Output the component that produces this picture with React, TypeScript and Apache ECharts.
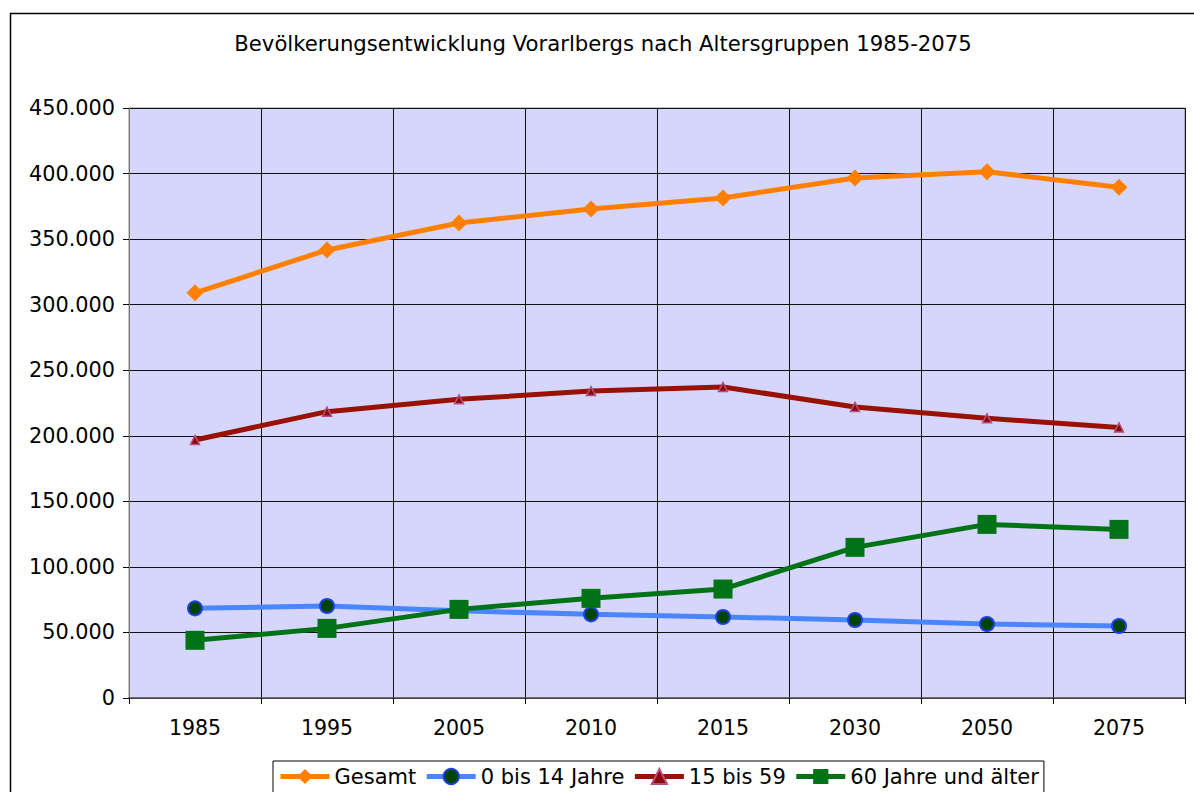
import React, { useEffect, useRef } from "react";
import * as echarts from "echarts";

const years = ["1985", "1995", "2005", "2010", "2015", "2030", "2050", "2075"];
const gesamt = [309000, 341700, 362300, 373000, 381400, 396600, 401400, 389500];
const age0to14 = [68400, 70200, 66500, 63800, 61800, 59500, 56400, 54900];
const age15to59 = [196800, 218400, 227800, 234100, 237200, 222000, 213300, 206400];
const age60plus = [44000, 53100, 67600, 76000, 83100, 114900, 132400, 128600];

const FONT = "DejaVu Sans";

const fmt = (v: number) => {
  if (v === 0) return "0";
  const s = String(Math.round(v));
  return s.replace(/\B(?=(\d{3})+(?!\d))/g, ".");
};

export default function App() {
  const ref = useRef<HTMLDivElement>(null);
  useEffect(() => {
    if (!ref.current) return;
    const chart = echarts.init(ref.current, null, { renderer: "svg" });
    chart.setOption({
      animation: false,
      backgroundColor: "#ffffff",
      textStyle: { fontFamily: FONT },
      title: {
        text: "Bevölkerungsentwicklung Vorarlbergs nach Altersgruppen 1985-2075",
        left: 603,
        textAlign: "center",
        top: 33,
        padding: 0,
        textStyle: { fontFamily: FONT, fontSize: 21.2, fontWeight: "normal", color: "#000" },
      },
      graphic: [
        {
          type: "rect",
          left: 8,
          top: 11,
          shape: { x: 0, y: 0, width: 1200, height: 800 },
          style: { fill: "none", stroke: "#000", lineWidth: 1.5 },
          z: -1,
          silent: true,
        },
      ],
      grid: {
        left: 129,
        top: 108,
        right: 9,
        bottom: 94,
        show: true,
        backgroundColor: "#d6d6fc",
        borderColor: "#888",
        borderWidth: 1,
      },
      legend: {
        top: 761,
        left: 273,
        orient: "horizontal",
        backgroundColor: "#fff",
        borderColor: "#000",
        borderWidth: 1,
        padding: [5, 5, 30, 5],
        itemGap: 8,
        itemWidth: 49,
        itemHeight: 19,
        lineStyle: { width: 5 },
        textStyle: { fontFamily: FONT, fontSize: 21, color: "#000" },
        data: ["Gesamt", "0 bis 14 Jahre", "15 bis 59", "60 Jahre und älter"],
      },
      xAxis: {
        type: "category",
        data: years,
        boundaryGap: true,
        axisLine: { show: true, lineStyle: { color: "#555", width: 1.5 } },
        axisTick: { show: true, length: 6, lineStyle: { color: "#000" } },
        axisLabel: { color: "#000", fontSize: 20.5, fontFamily: FONT, margin: 19 },
        splitLine: { show: true, lineStyle: { color: "#111", width: 1 } },
      },
      yAxis: {
        type: "value",
        min: 0,
        max: 450000,
        interval: 50000,
        axisLine: { show: true, lineStyle: { color: "#777", width: 1 } },
        axisTick: { show: true, length: 6, lineStyle: { color: "#000" } },
        axisLabel: { color: "#000", fontSize: 20.8, fontFamily: FONT, margin: 14, formatter: fmt },
        splitLine: { show: true, lineStyle: { color: "#111", width: 1 } },
      },
      series: [
        {
          name: "Gesamt",
          type: "line",
          data: gesamt,
          symbol: "diamond",
          symbolSize: 17,
          lineStyle: { color: "#ff8000", width: 5 },
          itemStyle: { color: "#ff8000" },
        },
        {
          name: "0 bis 14 Jahre",
          type: "line",
          data: age0to14,
          symbol: "circle",
          symbolSize: 14,
          lineStyle: { color: "#4a86ff", width: 5 },
          itemStyle: { color: "#004400", borderColor: "#1f40e6", borderWidth: 2 },
        },
        {
          name: "15 bis 59",
          type: "line",
          data: age15to59,
          symbol: "triangle",
          symbolSize: 9,
          lineStyle: { color: "#991100", width: 5 },
          itemStyle: { color: "#8b0a10", borderColor: "#b5507a", borderWidth: 1.5 },
        },
        {
          name: "60 Jahre und älter",
          type: "line",
          data: age60plus,
          symbol: "rect",
          symbolSize: 19,
          lineStyle: { color: "#007316", width: 5 },
          itemStyle: { color: "#007316" },
        },
      ],
    });
    return () => chart.dispose();
  }, []);
  return (
    <div
      ref={ref}
      style={{ position: "fixed", left: 0, top: 0, width: 1194, height: 792 }}
    />
  );
}
